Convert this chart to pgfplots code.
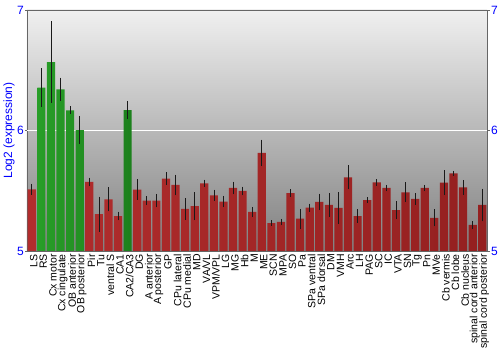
\documentclass[border=0pt]{standalone}
\usepackage{fontspec}
\setmainfont{Liberation Sans}
\usepackage{pgfplots}
\pgfplotsset{compat=1.18}
\usepackage{pgfplotstable}

\definecolor{rdark}{RGB}{178,45,45}
\definecolor{rlight}{RGB}{222,88,88}
\definecolor{rdark2}{RGB}{148,32,32}
\definecolor{gdark}{RGB}{40,158,40}
\definecolor{glight}{RGB}{92,210,92}
\definecolor{gdark2}{RGB}{28,128,28}
\definecolor{bgtop}{RGB}{240,240,240}
\definecolor{bgbot}{RGB}{128,128,128}

\pgfplotstableread{
x y e
0 5.512 0.03
6 5.573 0.02
7 5.305 0.13
8 5.429 0.083
9 5.290 0.02
11 5.510 0.068
12 5.418 0.02
13 5.418 0.04
14 5.600 0.035
15 5.548 0.07
16 5.349 0.072
17 5.373 0.10
18 5.562 0.013
19 5.462 0.03
20 5.410 0.03
21 5.523 0.036
22 5.498 0.02
23 5.324 0.026
24 5.814 0.094
25 5.232 0.005
26 5.241 0.01
27 5.481 0.015
28 5.268 0.065
29 5.360 0.017
30 5.407 0.052
31 5.382 0.08
32 5.357 0.116
33 5.612 0.083
34 5.290 0.04
35 5.423 0.005
36 5.570 0.01
37 5.523 0.01
38 5.340 0.058
39 5.487 0.065
40 5.432 0.03
41 5.523 0.01
42 5.274 0.054
43 5.567 0.086
44 5.645 0.003
45 5.528 0.044
46 5.216 0.014
47 5.382 0.12
}\reddata

\pgfplotstableread{
x y e
1 6.355 0.145
2 6.568 0.32
3 6.342 0.08
4 6.168 0.015
5 6.004 0.10
10 6.170 0.06
}\greendata

\begin{document}
\begin{tikzpicture}[x=1pt,y=1pt]
\path (0,0) rectangle (500,350);
\begin{axis}[
  at={(27pt,99pt)}, anchor=south west,
  scale only axis, width=460pt, height=241pt,
  xmin=-0.5, xmax=47.5, ymin=5, ymax=7,
  axis background/.style={top color=bgtop, bottom color=bgbot},
  axis line style={draw=gray!80!black, line width=0.6pt},
  ytick={5,6,7}, ytick pos=left, tick align=outside,
  major tick length=2pt,
  ytick style={draw=gray!80!black},
  extra y ticks={6}, extra y tick labels={},
  extra y tick style={grid=major, major grid style={white, line width=1pt}, major tick length=0pt},
  xtick={0,...,47},
  xtick style={draw=none},
  xticklabels={LS,RS,Cx motor,Cx cingulate,OB anterior,OB posterior,Pir,Tu,ventral S,CA1,CA2/CA3,DG,A anterior,A posterior,GP,CPu lateral,CPu medial,MD,VA/VL,VPM/VPL,LG,MG,Hb,M,ME,SCN,MPA,SO,Pa,SPa ventral,SPa dorsal,DM,VMH,Arc,LH,PAG,SC,IC,VTA,SN,Tg,Pn,MVe,Cb vermis,Cb lobe,Cb nucleus,spinal cord anterior,spinal cord posterior},
  xticklabel style={rotate=90, anchor=east, inner sep=1pt, font=\fontsize{10.5}{10.5}\selectfont, yshift=-2pt},
  yticklabel style={blue, font=\fontsize{12}{12}\selectfont, inner sep=1pt},
  /pgf/number format/assume math mode=true,
  ylabel={Log2 (expression)},
  ylabel style={blue, font=\fontsize{12}{12}\selectfont},
  ylabel shift=-4pt,
]
\addplot[ybar, bar width=0.86, bar shift=0pt, draw=none,
  left color=rdark, middle color=rlight, right color=rdark2,
  error bars/.cd, y dir=both, y explicit,
  error bar style={black!90, line width=0.75pt},
  error mark options={black!90, mark size=2pt, line width=0.75pt}]
  table[x=x, y=y, y error=e] {\reddata};
\addplot[ybar, bar width=0.86, bar shift=0pt, draw=none,
  left color=gdark, middle color=glight, right color=gdark2,
  error bars/.cd, y dir=both, y explicit,
  error bar style={black!90, line width=0.75pt},
  error mark options={black!90, mark size=2pt, line width=0.75pt}]
  table[x=x, y=y, y error=e] {\greendata};
\end{axis}
\begin{axis}[
  at={(27pt,99pt)}, anchor=south west,
  scale only axis, width=460pt, height=241pt,
  xmin=-0.5, xmax=47.5, ymin=5, ymax=7,
  axis x line=none, axis y line*=right,
  axis line style={draw=gray!80!black, line width=0.6pt},
  ytick={5,6,7}, tick align=outside, major tick length=3pt,
  ytick style={draw=gray!80!black},
  yticklabel style={blue, font=\fontsize{12}{12}\selectfont, inner sep=1pt},
  /pgf/number format/assume math mode=true,
]
\end{axis}
\end{tikzpicture}
\end{document}
